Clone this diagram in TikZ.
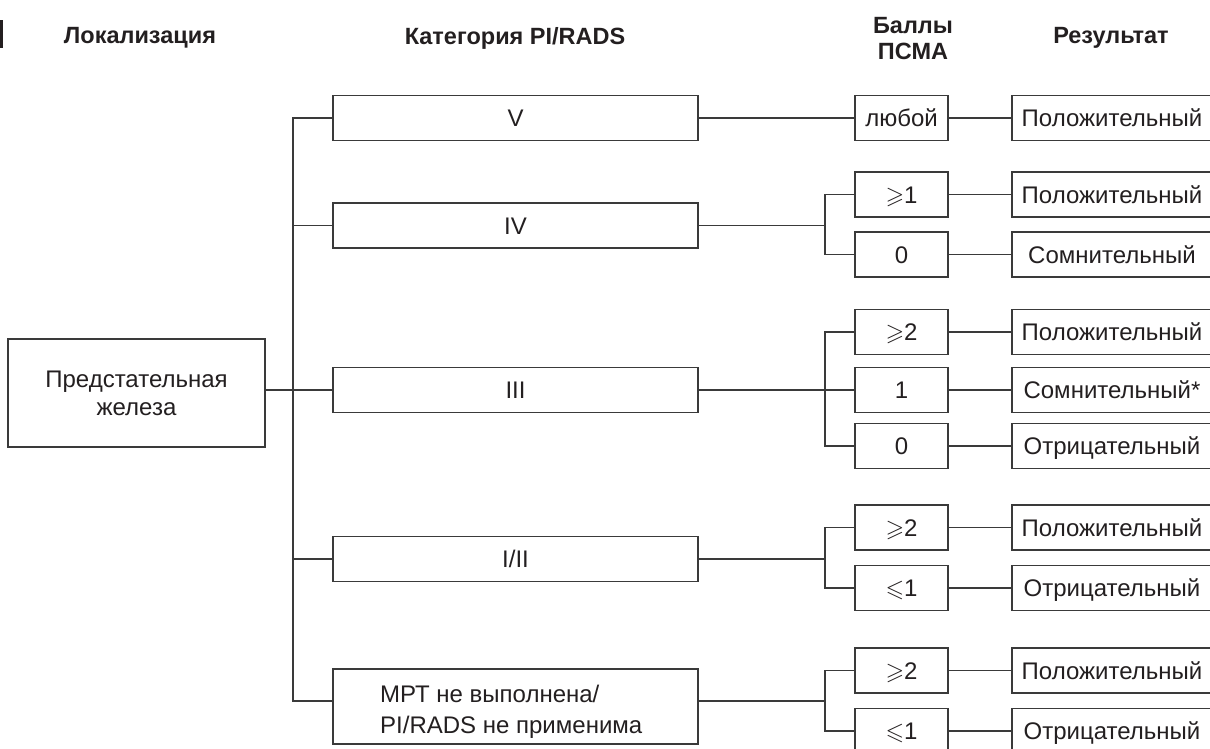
\documentclass[tikz,border=0pt]{standalone}
\usepackage{fontspec}
\usepackage{amssymb}
\setmainfont{Liberation Sans}
\definecolor{txt}{HTML}{231F20}
\definecolor{ln}{HTML}{3A3A3A}
\begin{document}
\begin{tikzpicture}[x=1pt,y=-1pt,
  every node/.style={font=\fontsize{24}{28}\selectfont, text=txt},
  box/.style={draw=ln, line width=1.4pt, inner sep=0pt, minimum height=45pt, align=center},
  one/.style={text height=20pt, text depth=3pt},
  catbox/.style={box, minimum width=365pt},
  scbox/.style={box, one, minimum width=93pt},
  resbox/.style={box, one, minimum width=200pt},
  hdr/.style={font=\fontsize{23.5}{26}\selectfont\bfseries, align=center},
  conn/.style={draw=ln, line width=1.4pt}]
\useasboundingbox (0,0) rectangle (1210,748);
\fill[txt] (0,20) rectangle (2.5,48);
% headers
\node[hdr] (h1) at (140,38) {Локализация};
\node[hdr] (h2) at (515,38) {Категория PI/RADS};
\node[hdr] (h3) at (913,39) {Баллы\\ПСМА};
\node[hdr] (h4) at (1111,38) {Результат};
% location
\node[box, minimum width=257pt, minimum height=108pt] (loc) at (136.5,393) {Предстательная\\железа};
% categories
\node[catbox, one] (c5) at (515.5,118) {V};
\node[catbox, one] (c4) at (515.5,225.5) {IV};
\node[catbox, one] (c3) at (515.5,390) {III};
\node[catbox, one] (c12) at (515.5,559) {I/II};
\node[catbox, minimum height=75pt] (c0) at (515.5,706.5) {};
\node[anchor=west, align=left, inner sep=0pt, font=\fontsize{24}{31}\selectfont] (c0t) at (380,712) {МРТ не выполнена/\\PI/RADS не применима};
% scores
\node[scbox] (s5) at (901.5,118) {любой};
\node[scbox] (s4a) at (901.5,194.5) {$\geqslant$1};
\node[scbox] (s4b) at (901.5,254.5) {0};
\node[scbox] (s3a) at (901.5,332) {$\geqslant$2};
\node[scbox] (s3b) at (901.5,390) {1};
\node[scbox] (s3c) at (901.5,446) {0};
\node[scbox] (s12a) at (901.5,527.5) {$\geqslant$2};
\node[scbox] (s12b) at (901.5,588) {$\leqslant$1};
\node[scbox] (s0a) at (901.5,670.5) {$\geqslant$2};
\node[scbox] (s0b) at (901.5,731) {$\leqslant$1};
% results
\node[resbox] (r5) at (1112,118) {Положительный};
\node[resbox] (r4a) at (1112,194.5) {Положительный};
\node[resbox] (r4b) at (1112,254.5) {Сомнительный};
\node[resbox] (r3a) at (1112,332) {Положительный};
\node[resbox] (r3b) at (1112,390) {Сомнительный*};
\node[resbox] (r3c) at (1112,446) {Отрицательный};
\node[resbox] (r12a) at (1112,527.5) {Положительный};
\node[resbox] (r12b) at (1112,588) {Отрицательный};
\node[resbox] (r0a) at (1112,670.5) {Положительный};
\node[resbox] (r0b) at (1112,731) {Отрицательный};
% trunk
\coordinate (tr) at (293,118);
\coordinate (mrtin) at (333,701);
\coordinate (mrtout) at (698,701);
\coordinate (fk) at (825,0);
\draw[conn] (c5.west) -- (tr) -- (tr |- mrtin) -- (mrtin);
\draw[conn] (c4.west -| tr) -- (c4.west);
\draw[conn] (loc.east |- c3.west) -- (c3.west);
\draw[conn] (c12.west -| tr) -- (c12.west);
% category to scores
\draw[conn] (c5.east) -- (s5.west);
\draw[conn] (c4.east) -- (c4.east -| fk);
\draw[conn] (s4a.west) -- (s4a.west -| fk) -- (s4b.west -| fk) -- (s4b.west);
\draw[conn] (c3.east) -- (s3b.west);
\draw[conn] (s3a.west) -- (s3a.west -| fk) -- (s3c.west -| fk) -- (s3c.west);
\draw[conn] (c12.east) -- (c12.east -| fk);
\draw[conn] (s12a.west) -- (s12a.west -| fk) -- (s12b.west -| fk) -- (s12b.west);
\draw[conn] (mrtout) -- (mrtout -| fk);
\draw[conn] (s0a.west) -- (s0a.west -| fk) -- (s0b.west -| fk) -- (s0b.west);
% scores to results
\foreach \s/\r in {s5/r5,s4a/r4a,s4b/r4b,s3a/r3a,s3b/r3b,s3c/r3c,s12a/r12a,s12b/r12b,s0a/r0a,s0b/r0b}
  \draw[conn] (\s.east) -- (\r.west);
\end{tikzpicture}
\end{document}
